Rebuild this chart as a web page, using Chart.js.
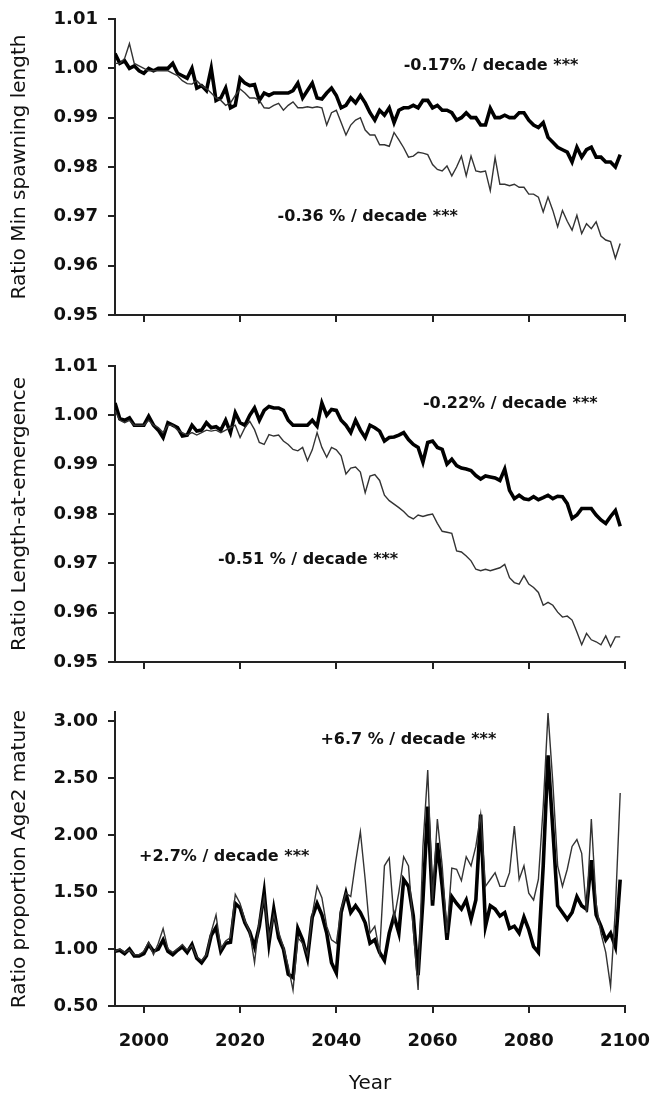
<!DOCTYPE html>
<html>
<head>
<meta charset="utf-8">
<script src="https://cdn.jsdelivr.net/npm/chart.js@4/dist/chart.umd.min.js"></script>
<style>
  body { margin: 0; background: #fff; }
  .panel { position: absolute; left: 0; }
</style>
</head>
<body>
<canvas id="spawnChart" class="panel" width="653" height="340" style="top:0px"></canvas>
<canvas id="emergeChart" class="panel" width="653" height="340" style="top:340px"></canvas>
<canvas id="matureChart" class="panel" width="653" height="417" style="top:680px"></canvas>
<script>
// years 1994..2099, one value per year
const firstYear = 1994;
const lastYear = 2099;
const xTicks = [2000, 2020, 2040, 2060, 2080, 2100];
const lengthTicks = [0.95, 0.96, 0.97, 0.98, 0.99, 1.00, 1.01];
const matureTicks = [0.5, 1.0, 1.5, 2.0, 2.5, 3.0];

// Ratio Min spawning length
const spawnThick = [1.003, 1.001, 1.0015, 1.000, 1.0005, 0.9995,
  0.999, 1.000, 0.9995, 1.000, 1.000, 1.000, 1.001, 0.999, 0.9985, 0.998,
  1.000, 0.996, 0.9965, 0.9955, 1.000, 0.9935, 0.994, 0.996, 0.992, 0.9925,
  0.998, 0.997, 0.9965, 0.9967, 0.9935, 0.995, 0.9945, 0.995, 0.995, 0.995,
  0.995, 0.9955, 0.997, 0.994, 0.9955, 0.997, 0.994, 0.9938, 0.995, 0.996,
  0.9945, 0.992, 0.9925, 0.994, 0.993, 0.9945, 0.993, 0.991, 0.9895, 0.9915,
  0.9905, 0.992, 0.989, 0.9915, 0.992, 0.992, 0.9925, 0.992, 0.9935, 0.9935,
  0.992, 0.9925, 0.9915, 0.9915, 0.991, 0.9895, 0.990, 0.991, 0.990, 0.990,
  0.9885, 0.9885, 0.9919, 0.990, 0.990, 0.9905, 0.990, 0.990, 0.991, 0.991,
  0.9895, 0.9885, 0.988, 0.989, 0.986, 0.985, 0.984, 0.9835, 0.983, 0.981,
  0.984, 0.982, 0.9835, 0.984, 0.982, 0.982, 0.981, 0.981, 0.980, 0.9825];
const spawnThin = [1.001, 1.001, 1.002, 1.005, 1.001, 1.0005,
  1.000, 0.9995, 0.9995, 0.9995, 0.9995, 0.9995, 0.999, 0.9985, 0.9975, 0.9969,
  0.9968, 0.9975, 0.9965, 0.9959, 0.995, 0.994, 0.9935, 0.9925, 0.993, 0.9945,
  0.9958, 0.995, 0.994, 0.994, 0.9935, 0.992, 0.9919, 0.9925, 0.9929, 0.9915,
  0.9925, 0.9932, 0.992, 0.992, 0.9922, 0.992, 0.9922, 0.992, 0.9885, 0.991,
  0.9915, 0.989, 0.9865, 0.9885, 0.9895, 0.990, 0.9875, 0.9865, 0.9865, 0.9845,
  0.9845, 0.9842, 0.987, 0.9855, 0.9839, 0.982, 0.9822, 0.983, 0.9828, 0.9825,
  0.9805, 0.9795, 0.9792, 0.9802, 0.9782, 0.980, 0.9822, 0.9782, 0.9822, 0.9792,
  0.979, 0.9792, 0.9752, 0.9819, 0.9765, 0.9765, 0.9762, 0.9765, 0.9759, 0.9759,
  0.9745, 0.9745, 0.9739, 0.9709, 0.9739, 0.9712, 0.9679, 0.9712, 0.969, 0.9672,
  0.9702, 0.9665, 0.9685, 0.9675, 0.9689, 0.966, 0.9652, 0.9649, 0.9615, 0.9645];

// Ratio Length-at-emergence
const emergeThick = [1.0025, 0.9993, 0.999, 0.9995, 0.998, 0.998,
  0.998, 0.9998, 0.998, 0.997, 0.9955, 0.9985, 0.998, 0.9975, 0.9958, 0.996,
  0.998, 0.9968, 0.997, 0.9985, 0.9975, 0.9977, 0.997, 0.999, 0.9965, 1.0005,
  0.9985, 0.998, 1.000, 1.0015, 0.999, 1.001, 1.0018, 1.0015, 1.0015, 1.001,
  0.999, 0.998, 0.998, 0.998, 0.998, 0.999, 0.9978, 1.0025, 1.000, 1.0012,
  1.001, 0.999, 0.998, 0.9965, 0.999, 0.997, 0.9955, 0.998, 0.9975, 0.9968,
  0.9948, 0.9955, 0.9956, 0.996, 0.9965, 0.9951, 0.9941, 0.9935, 0.9905, 0.9945,
  0.9948, 0.9935, 0.9931, 0.9901, 0.9911, 0.9898, 0.9893, 0.9891, 0.9888, 0.9878,
  0.9871, 0.9877, 0.9875, 0.9873, 0.9868, 0.9891, 0.9848, 0.9831, 0.9838, 0.9831,
  0.9829, 0.9835, 0.9829, 0.9833, 0.9838, 0.9831, 0.9836, 0.9835, 0.9821, 0.9791,
  0.9798, 0.9811, 0.9811, 0.9811, 0.9798, 0.9788, 0.9781, 0.9795, 0.9807, 0.9775];
const emergeThin = [1.001, 0.999, 0.9985, 0.999, 0.998, 0.998,
  0.998, 0.999, 0.998, 0.9975, 0.9965, 0.998, 0.998, 0.997, 0.9965, 0.996,
  0.9965, 0.996, 0.9965, 0.997, 0.9968, 0.997, 0.9965, 0.997, 0.9975, 0.998,
  0.9955, 0.9975, 0.9988, 0.9971, 0.9945, 0.9941, 0.9961, 0.9958, 0.996, 0.9948,
  0.9941, 0.9931, 0.9928, 0.9935, 0.9908, 0.993, 0.9965, 0.9935, 0.9915, 0.9935,
  0.993, 0.9918, 0.9881, 0.9893, 0.9895, 0.9885, 0.9843, 0.9877, 0.988, 0.9868,
  0.9838, 0.9827, 0.982, 0.9813, 0.9805, 0.9795, 0.979, 0.9798, 0.9795, 0.9798,
  0.980, 0.9781, 0.9765, 0.9763, 0.9761, 0.9725, 0.9723, 0.9715, 0.9705, 0.9688,
  0.9685, 0.9688, 0.9685, 0.9688, 0.9691, 0.9698, 0.9671, 0.9661, 0.9658, 0.9675,
  0.9658, 0.9651, 0.9641, 0.9615, 0.9621, 0.9615, 0.9601, 0.9591, 0.9593, 0.9585,
  0.9561, 0.9535, 0.9558, 0.9545, 0.9541, 0.9535, 0.9553, 0.9531, 0.9551, 0.9551];

// Ratio proportion Age2 mature
const matureThick = [0.98, 0.99, 0.96, 1.00, 0.94, 0.94,
  0.96, 1.04, 0.98, 1.00, 1.08, 0.98, 0.95, 0.99, 1.02, 0.97,
  1.04, 0.92, 0.88, 0.94, 1.12, 1.19, 0.98, 1.05, 1.06, 1.40,
  1.36, 1.23, 1.15, 1.02, 1.20, 1.50, 1.05, 1.35, 1.10, 1.00,
  0.78, 0.75, 1.18, 1.08, 0.92, 1.28, 1.40, 1.30, 1.14, 0.88,
  0.79, 1.32, 1.49, 1.32, 1.38, 1.32, 1.23, 1.05, 1.08, 0.97,
  0.90, 1.14, 1.29, 1.14, 1.61, 1.55, 1.29, 0.77, 1.43, 2.25,
  1.38, 1.93, 1.55, 1.08, 1.46, 1.40, 1.35, 1.43, 1.26, 1.43,
  2.18, 1.20, 1.38, 1.35, 1.29, 1.32, 1.18, 1.20, 1.14, 1.28,
  1.17, 1.02, 0.97, 1.73, 2.70, 2.05, 1.38, 1.32, 1.26, 1.32,
  1.46, 1.38, 1.35, 1.78, 1.30, 1.20, 1.08, 1.14, 1.02, 1.61];
const matureThin = [0.98, 1.00, 0.97, 0.99, 0.95, 0.95,
  0.98, 1.06, 0.95, 1.05, 1.18, 1.00, 0.97, 1.00, 1.04, 0.99,
  1.03, 0.93, 0.90, 0.95, 1.15, 1.30, 1.00, 1.07, 1.10, 1.48,
  1.40, 1.25, 1.15, 0.88, 1.25, 1.45, 1.10, 1.30, 1.15, 1.02,
  0.85, 0.64, 1.10, 1.05, 0.95, 1.30, 1.55, 1.45, 1.20, 1.08,
  1.05, 1.35, 1.49, 1.46, 1.76, 2.03, 1.61, 1.14, 1.20, 0.97,
  1.73, 1.80, 1.26, 1.50, 1.81, 1.73, 1.17, 0.64, 1.90, 2.57,
  1.43, 2.14, 1.73, 1.14, 1.71, 1.70, 1.60, 1.81, 1.73, 1.90,
  2.18, 1.55, 1.61, 1.67, 1.55, 1.55, 1.67, 2.08, 1.61, 1.73,
  1.49, 1.43, 1.61, 2.25, 3.07, 2.46, 1.73, 1.55, 1.70, 1.90,
  1.96, 1.84, 1.32, 2.14, 1.40, 1.14, 0.97, 0.67, 1.35, 2.37];

const years = [];
for (let yr = firstYear; yr <= lastYear; yr++) years.push(yr);

const tickFont = { family: 'DejaVu Sans', size: 18, weight: 'bold' };
const titleFont = { family: 'DejaVu Sans', size: 20 };
const ink = '#111';
const axisColor = '#222';

// text labels "% / decade"
const notePlugin = {
  id: 'notes',
  afterDatasetsDraw(chart, args, opts) {
    const { ctx } = chart;
    const x = chart.scales.x, y = chart.scales.y;
    ctx.save();
    ctx.font = 'bold 16px "DejaVu Sans"';
    ctx.fillStyle = ink;
    ctx.textBaseline = 'middle';
    ctx.textAlign = 'left';
    (opts.items || []).forEach(n => {
      ctx.fillText(n.text, x.getPixelForValue(n.x), y.getPixelForValue(n.y));
    });
    ctx.restore();
  }
};

function toPoints(values) {
  return years.map((yr, i) => ({ x: yr, y: values[i] }));
}

function makePanel(id, cfg) {
  const gridOpts = { drawOnChartArea: false, drawTicks: true, tickLength: 7, color: axisColor, lineWidth: 2 };
  return new Chart(document.getElementById(id), {
    type: 'line',
    data: {
      datasets: [
        { label: 'thin', data: toPoints(cfg.thin), borderColor: '#333', borderWidth: 1.4, pointRadius: 0, tension: 0 },
        { label: 'thick', data: toPoints(cfg.thick), borderColor: '#000', borderWidth: 3.6, pointRadius: 0, tension: 0 }
      ]
    },
    options: {
      responsive: false,
      animation: false,
      layout: { padding: { top: cfg.top, right: 28, left: 0, bottom: 0 } },
      plugins: {
        legend: { display: false },
        tooltip: { enabled: false },
        notes: { items: cfg.notes }
      },
      scales: {
        x: {
          type: 'linear',
          min: firstYear,
          max: 2100,
          afterBuildTicks: s => { s.ticks = xTicks.map(v => ({ value: v })); },
          afterFit: s => { s.height = cfg.xHeight; s.paddingLeft = 0; s.paddingRight = 0; },
          ticks: { display: cfg.showYears, autoSkip: false, maxRotation: 0, padding: 18,
                   font: tickFont, color: ink, callback: v => String(v) },
          grid: gridOpts,
          border: { color: axisColor, width: 2 },
          title: { display: cfg.showYears, text: 'Year', font: titleFont, color: ink, padding: { bottom: 1 } }
        },
        y: {
          min: cfg.yTicks[0],
          max: cfg.yMax,
          afterBuildTicks: s => { s.ticks = cfg.yTicks.map(v => ({ value: v })); },
          afterFit: s => { s.width = 115; s.paddingTop = 0; s.paddingBottom = 0; },
          ticks: { padding: 10, font: tickFont, color: ink, callback: v => v.toFixed(2) },
          grid: gridOpts,
          border: { color: axisColor, width: 2 },
          title: { display: true, text: cfg.title, font: titleFont, color: ink, padding: { top: 8 } }
        }
      }
    },
    plugins: [notePlugin]
  });
}

makePanel('spawnChart', {
  title: 'Ratio Min spawning length',
  thick: spawnThick, thin: spawnThin, yTicks: lengthTicks, yMax: 1.01,
  top: 19, xHeight: 25, showYears: false,
  notes: [
    { x: 2054, y: 1.0006, text: '-0.17% / decade ***' },
    { x: 2027.8, y: 0.9698, text: '-0.36 % / decade ***' }
  ]
});

makePanel('emergeChart', {
  title: 'Ratio Length-at-emergence',
  thick: emergeThick, thin: emergeThin, yTicks: lengthTicks, yMax: 1.01,
  top: 26, xHeight: 18, showYears: false,
  notes: [
    { x: 2058, y: 1.0024, text: '-0.22% / decade ***' },
    { x: 2015.4, y: 0.9708, text: '-0.51 % / decade ***' }
  ]
});

makePanel('matureChart', {
  title: 'Ratio proportion Age2 mature',
  thick: matureThick, thin: matureThin, yTicks: matureTicks, yMax: 3.08,
  top: 32, xHeight: 91, showYears: true,
  notes: [
    { x: 2036.7, y: 2.84, text: '+6.7 % / decade ***' },
    { x: 1999, y: 1.81, text: '+2.7% / decade ***' }
  ]
});
</script>
</body>
</html>
